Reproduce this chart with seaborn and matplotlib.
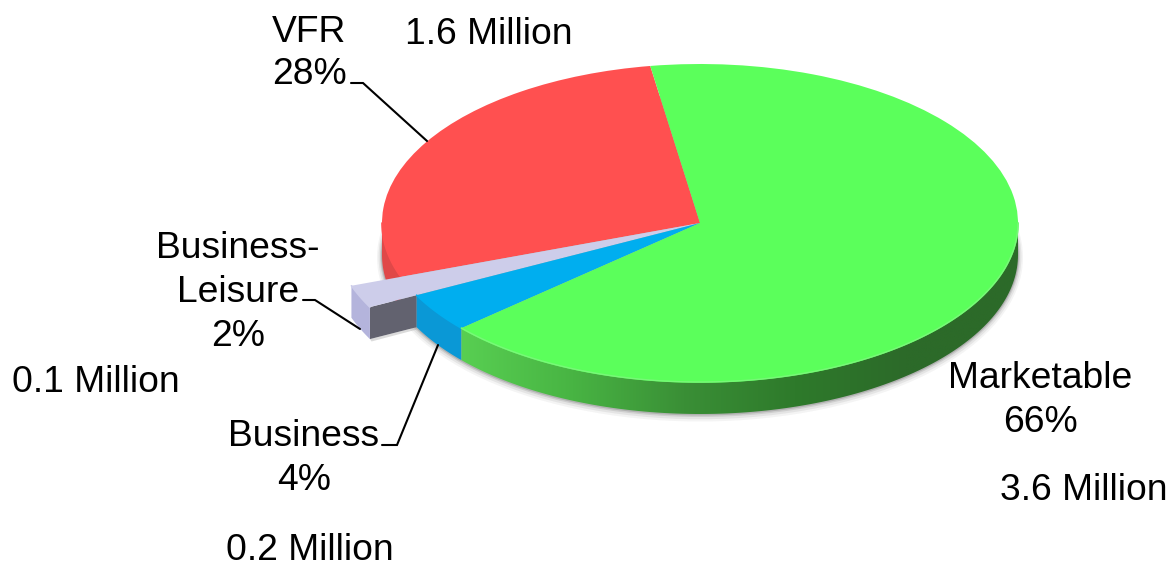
import numpy as np
import matplotlib
matplotlib.use("Agg")
import matplotlib.pyplot as plt
import seaborn as sns
from matplotlib.colors import LinearSegmentedColormap
from matplotlib.patches import Ellipse, Polygon

# data
categories = ["Marketable", "Business", "Business-Leisure", "VFR"]
shares = [66, 4, 2, 28]
radius_scale = [1.0, 1.0, 1.165, 1.0]
top_colors = ["#5bff5b", "#00aeef", "#cdcdea", "#ff5050"]
side_colors = ["#3f9a3a", "#0a98d6", "#b4b4dc", "#e04848"]

sns.set_theme(style="white")
plt.rcParams["font.family"] = ["Liberation Sans", "DejaVu Sans"]

W, H = 1170, 563
CX, CY, RX, RY = 700, 223, 318, 159
DEPTH = 32 / RY
START = 99


# picture pixels -> pie units
def px(x, y):
    return (x - CX) / RX, (CY - y) / RY


fig, ax = plt.subplots(figsize=(W / 100, H / 100), dpi=100)
fig.subplots_adjust(0, 0, 1, 1)

wedges, _ = ax.pie(shares, colors=top_colors, startangle=START, counterclock=False,
                   wedgeprops={"linewidth": 0})
ax.set_aspect("auto")

# soft shadow under the disc
for k, a in zip([5, 3.5, 2, 1], [0.05, 0.08, 0.12, 0.18]):
    ax.add_patch(Ellipse((0, -DEPTH - k / RY / 2), 2 + 2 * k / RX, 2 + 2 * k / RY,
                         fc="#303030", ec="none", alpha=a, zorder=0.5))

for w, s in zip(wedges, radius_scale):
    w.set_radius(s)


def arc(r, t1, t2, dz=0.0):
    t = np.radians(np.linspace(t1, t2, 120))
    return np.column_stack([r * np.cos(t), r * np.sin(t) - dz])


def side_path(r, t1, t2):
    return np.vstack([arc(r, t1, t2), arc(r, t2, t1, DEPTH)])


green_cmap = LinearSegmentedColormap.from_list(
    "green_side", ["#58cf52", "#48b443", "#3a8f36", "#2e7a2b", "#2c6a29", "#2c6a29"])

layers = {"Marketable": 8, "Business": 7, "Business-Leisure": 5, "VFR": 3}
for w, name, side, s in zip(wedges, categories, side_colors, radius_scale):
    z = layers[name]
    w.set_zorder(z + 0.5)
    # only the lower half of the rim shows
    lo, hi = max(w.theta1, -180), min(w.theta2, 0)
    if name == "Marketable":
        poly = Polygon(side_path(s, lo, hi), fc="none", ec="none")
        ax.add_patch(poly)
        grad = np.linspace(0, 1, 256).reshape(1, -1)
        x_left = s * np.cos(np.radians(lo))
        im = ax.imshow(grad, cmap=green_cmap, extent=(x_left, s, -1 - DEPTH, 0),
                       aspect="auto", zorder=z, interpolation="bilinear")
        im.set_clip_path(poly)
    elif name == "Business-Leisure":
        # pulled-out sliver: end cap and dark radial face
        ax.add_patch(Polygon(side_path(s, lo, hi), fc=side, ec="none", zorder=z + 0.2))
        edge = np.radians(hi)
        ux, uy = np.cos(edge), np.sin(edge)
        face = [(ux, uy), (s * ux, s * uy), (s * ux, s * uy - DEPTH), (ux, uy - DEPTH)]
        ax.add_patch(Polygon(face, fc="#62626f", ec="none", zorder=z + 0.1))
        shadow = [(s * ux + 0.005, s * uy - DEPTH - 0.015), (ux, uy - DEPTH - 0.015),
                  (ux, uy - DEPTH), (s * ux, s * uy - DEPTH)]
        ax.add_patch(Polygon(shadow, fc="#999999", ec="none", alpha=0.35, zorder=z))
    else:
        ax.add_patch(Polygon(side_path(s, lo, hi), fc=side, ec="none", zorder=z))

    # rim highlight on the front of the top face
    ax.plot(*arc(s, lo, hi).T, color=w.get_facecolor(), lw=1.2, zorder=z + 0.6)

rim_green = arc(1, max(wedges[0].theta1, -180), 0)
ax.plot(rim_green[:, 0], rim_green[:, 1], color="#78f878", lw=1.0, zorder=8.7)

labels = [
    ("VFR", 309, 32), ("28%", 309, 75), ("1.6 Million", 489, 35),
    ("Business-", 238, 248), ("Leisure", 238, 292), ("2%", 238, 336),
    ("0.1 Million", 96, 382),
    ("Business", 304, 436), ("4%", 304, 480), ("0.2 Million", 310, 550),
    ("Marketable", 1040, 379), ("66%", 1040, 423), ("3.6 Million", 1084, 491),
]
for txt, x, y in labels:
    ax.text(*px(x, y), txt, fontsize=26.8, color="black", ha="center", va="center", zorder=20)

leaders = [
    [(351, 83), (363, 83), (427, 141)],
    [(303, 300), (315, 300), (360, 329)],
    [(382, 445), (397, 445), (438, 345)],
]
for pts in leaders:
    xy = np.array([px(*p) for p in pts])
    ax.plot(xy[:, 0], xy[:, 1], color="black", lw=1.5, zorder=19, solid_joinstyle="miter")

x0, y0 = px(0, H)
x1, y1 = px(W, 0)
ax.set_xlim(x0, x1)
ax.set_ylim(y0, y1)
ax.axis("off")

fig.savefig("out.png", dpi=100, facecolor="white")
